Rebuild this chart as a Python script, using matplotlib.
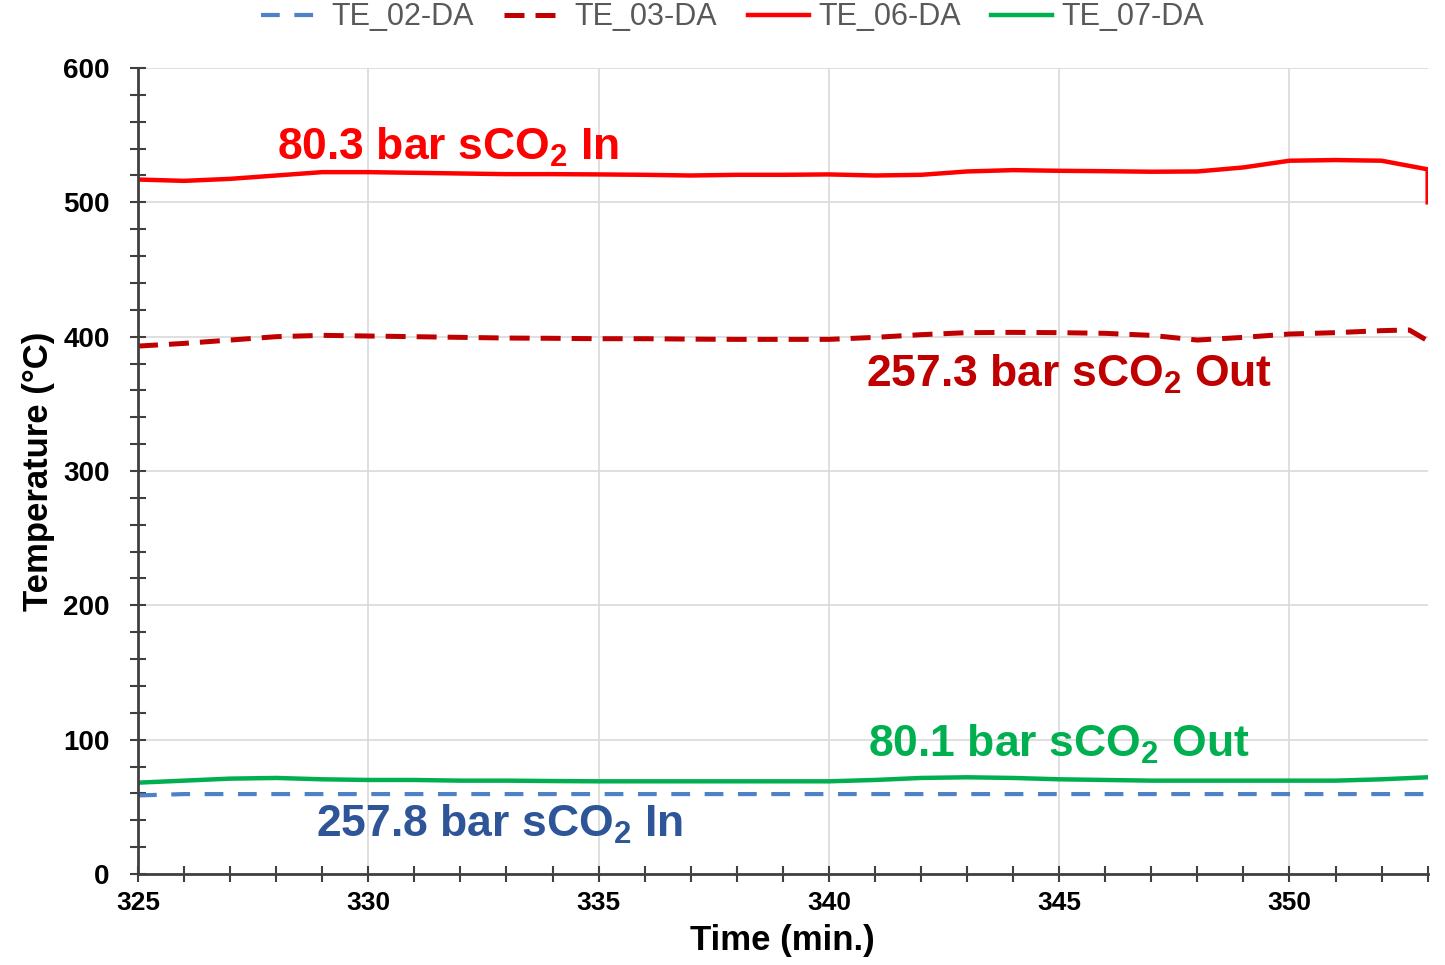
import matplotlib
matplotlib.use("Agg")
import matplotlib.pyplot as plt
from matplotlib.ticker import MultipleLocator

plt.rcParams['font.family'] = ['Liberation Sans', 'DejaVu Sans']
plt.rcParams['mathtext.fontset'] = 'custom'
plt.rcParams['mathtext.rm'] = 'Liberation Sans:bold'

# ---- data ----
time = [325, 326, 327, 328, 329, 330, 331, 332, 333, 334, 335, 336, 337, 338, 339,
        340, 341, 342, 343, 344, 345, 346, 347, 348, 349, 350, 351, 352, 353]

te02 = [58.5, 59.5, 59.5, 59.5, 59.5, 59.5, 59.5, 59.5, 59.5, 59.5, 59.5, 59.5, 59.5, 59.5, 59.5,
        59.5, 59.5, 59.5, 59.5, 59.5, 59.5, 59.5, 59.5, 59.5, 59.5, 59.5, 59.5, 59.5, 59.5]

te03_time = time[:-1] + [352.6, 353]
te03 = [393, 395, 397.5, 400, 401, 400.5, 400, 399.5, 399, 398.8, 398.5, 398.5, 398.2, 398, 398,
        398, 399.5, 401.5, 403, 403.2, 403, 402.5, 401, 397.5, 399.5, 402, 403, 404.5, 405, 397]

te06_time = time + [353]
te06 = [517, 516, 517.5, 520, 522.5, 522.5, 522, 521.5, 521, 521, 520.8, 520.5, 520, 520.5, 520.5,
        520.8, 520, 520.5, 523, 524, 523.5, 523.2, 522.8, 523, 526, 531, 531.5, 531, 524.6, 500]

te07 = [68, 69.5, 71, 71.5, 70.5, 70, 70, 69.5, 69.5, 69.2, 69, 69, 69, 69, 69,
        69, 70, 71.5, 72, 71.5, 70.5, 70, 69.5, 69.5, 69.5, 69.5, 69.5, 70.5, 72]

series_names = ['TE_02-DA', 'TE_03-DA', 'TE_06-DA', 'TE_07-DA']
annotations = [
    (328.02, 531.6, '80.3 bar sCO$_\\mathregular{2}$ In', '#FF0000'),
    (340.8, 362.6, '257.3 bar sCO$_\\mathregular{2}$ Out', '#C00000'),
    (340.85, 87.1, '80.1 bar sCO$_\\mathregular{2}$ Out', '#00B050'),
    (328.86, 27.5, '257.8 bar sCO$_\\mathregular{2}$ In', '#2E5597'),
]

# ---- figure ----
fig = plt.figure(figsize=(14.45, 9.65), dpi=100)
ax = fig.add_axes([0.0955, 0.0943, 0.8925, 0.8352])

l2, = ax.plot(time, te02, color='#4F81C6', lw=3.0, ls=(0, (4.5, 3.5)), label=series_names[0])
l3, = ax.plot(te03_time, te03, color='#C00000', lw=3.6, ls=(0, (4, 2.2)), label=series_names[1])
l6, = ax.plot(te06_time, te06, color='#FF0000', lw=3.2, label=series_names[2])
l7, = ax.plot(time, te07, color='#00B050', lw=3.2, label=series_names[3])

for x, y, s, c in annotations:
    ax.text(x, y, s, color=c, fontsize=32, fontweight='bold', ha='left', va='baseline')

ax.set_xlim(325, 353)
ax.set_ylim(0, 600)
ax.xaxis.set_major_locator(MultipleLocator(5))
ax.xaxis.set_minor_locator(MultipleLocator(1))
ax.yaxis.set_major_locator(MultipleLocator(100))
ax.yaxis.set_minor_locator(MultipleLocator(20))
ax.grid(True, which='major', color='#D9D9D9', lw=1.2)
ax.set_axisbelow(True)

for sp in ['top', 'right']:
    ax.spines[sp].set_visible(False)
for sp in ['left', 'bottom']:
    ax.spines[sp].set_color('#404040')
    ax.spines[sp].set_linewidth(2)

ax.tick_params(which='both', direction='inout', length=11, width=1.5, color='#404040')
ax.tick_params(axis='y', which='major', labelsize=20, pad=15)
ax.tick_params(axis='x', which='major', labelsize=19, pad=7)
for lab in ax.get_xticklabels() + ax.get_yticklabels():
    lab.set_fontweight('bold')

ax.set_xlabel('Time (min.)', fontsize=25, fontweight='bold', labelpad=6)
ax.set_ylabel('Temperature (°C)', fontsize=25, fontweight='bold', labelpad=6)

leg = fig.legend(handles=[l2, l3, l6, l7], loc='center', bbox_to_anchor=(0.507, 0.982),
                 ncol=4, frameon=False, fontsize=22, handlelength=2.0,
                 handletextpad=0.3, columnspacing=1.0)
for t in leg.get_texts():
    t.set_color('#595959')

fig.savefig('out.png', dpi=100)
